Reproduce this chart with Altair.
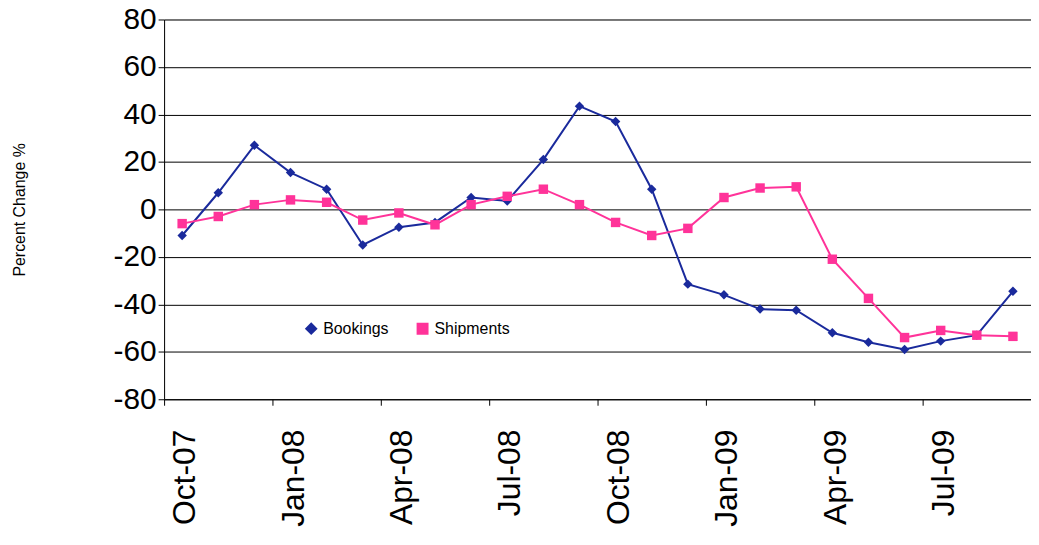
import altair as alt
import pandas as pd

months = ["Oct-07","Nov-07","Dec-07","Jan-08","Feb-08","Mar-08","Apr-08","May-08","Jun-08","Jul-08","Aug-08","Sep-08",
          "Oct-08","Nov-08","Dec-08","Jan-09","Feb-09","Mar-09","Apr-09","May-09","Jun-09","Jul-09","Aug-09","Sep-09"]
bookings = [-11,7,27,15.5,8.5,-15,-7.5,-5.5,5,3.5,21,43.5,37,8.5,-31.5,-36,-42,-42.5,-52,-56,-59,-55.5,-53,-34.5]
shipments = [-6,-3,2,4,3,-4.5,-1.5,-6.5,2,5.5,8.5,2,-5.5,-11,-8,5,9,9.5,-21,-37.5,-54,-51,-53,-53.5]

rows = []
for i, m in enumerate(months):
    rows.append({"i": i, "m": m, "s": "Bookings", "v": bookings[i]})
    rows.append({"i": i, "m": m, "s": "Shipments", "v": shipments[i]})
df = pd.DataFrame(rows)

labels = {i: m for i, m in enumerate(months)}
expr = "{" + ",".join(f'"{k}":"{v}"' for k, v in labels.items()) + "}[round(datum.value + 0.5)]"

x = alt.X("i:Q", scale=alt.Scale(domain=[-0.5, 23.5], nice=False, zero=False),
          axis=alt.Axis(values=[k - 0.5 for k in range(0, 24, 3)], labelExpr=expr, title=None, grid=False,
                        labelAngle=-90, labelFontSize=32, labelFont="Liberation Sans", labelColor="black",
                        labelOffset=21, tickColor="black", domainColor="black", labelPadding=24, tickSize=6,
                        labelBound=False, labelFlush=False))
y = alt.Y("v:Q", scale=alt.Scale(domain=[-80, 80]),
          axis=alt.Axis(values=list(range(-80, 81, 20)), title="Percent Change %", titleFontSize=16,
                        titleFont="Liberation Sans", titleFontWeight="normal", titlePadding=86,
                        labelExpr="replace(format(datum.value, 'd'), '−', '-')",
                        labelFontSize=30, labelFont="Liberation Sans", labelColor="black",
                        gridColor="black", gridWidth=1, tickColor="black", domainColor="black", tickSize=6))
color = alt.Color("s:N", scale=alt.Scale(domain=["Bookings","Shipments"], range=["#1a2a9c","#ff3399"]),
                  legend=alt.Legend(title=None, orient="none", legendX=140, legendY=303, direction="horizontal",
                                    labelFontSize=16, labelFont="Liberation Sans", symbolStrokeWidth=2, columnPadding=25))
shape = alt.Shape("s:N", scale=alt.Scale(domain=["Bookings","Shipments"], range=["diamond","square"]), legend=None)

chart = alt.Chart(df).mark_line(point=alt.OverlayMarkDef(filled=True, size=90), strokeWidth=2).encode(
    x=x, y=y, color=color, shape=shape, detail="s:N"
).properties(width=872, height=382, autosize=alt.AutoSizeParams(type="none"),
             padding={"left": 157, "top": 10, "right": 0, "bottom": 140}
).configure_view(stroke=None).configure(background="white")

chart.save("out.html", embed_options={"renderer": "svg", "actions": False})
